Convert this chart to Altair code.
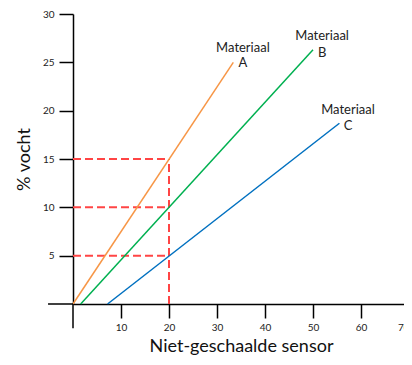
import altair as alt
import pandas as pd

# --- data ---
series = ["A", "B", "C"]
x_start = [0.0, 1.6, 7.2]
y_start = [0.0, 0.0, 0.0]
x_end = [33.4, 50.0, 55.5]
y_end = [25.0, 26.3, 18.7]
colors = ["#F79646", "#00B050", "#0070C0"]

ref_sensor = 20
ref_moist = [5, 10, 15]

label_x = [35.4, 51.9, 57.3]
label_y = [26.5, 27.75, 20.1]
letter_y = [24.9, 26.0, 18.4]

x_ticks = [10, 20, 30, 40, 50, 60, 70]
y_ticks = [5, 10, 15, 20, 25, 30]

FONT = "Lato"

xscale = alt.Scale(domain=[0, 70], nice=False, zero=False)
yscale = alt.Scale(domain=[0, 30], nice=False, zero=False)

x_axis = alt.Axis(values=x_ticks, title="Niet-geschaalde sensor", grid=False,
                  domainColor="black", domainWidth=1.5, tickColor="black",
                  tickSize=14, tickWidth=1.5, labelFont=FONT, labelFontSize=10,
                  labelColor="#222", labelPadding=4, titleFont=FONT,
                  titleFontSize=18, titleFontWeight="normal", titleColor="#111",
                  titlePadding=5)
y_axis = alt.Axis(values=y_ticks, title="% vocht", grid=False,
                  domainColor="black", domainWidth=1.5, tickColor="black",
                  tickSize=14, tickWidth=1.5, labelFont=FONT, labelFontSize=10,
                  labelColor="#222", labelPadding=5, titleFont=FONT,
                  titleFontSize=18, titleFontWeight="normal", titleColor="#111",
                  titlePadding=9)


def X(field):
    return alt.X(field, type="quantitative", scale=xscale, axis=x_axis)


def Y(field):
    return alt.Y(field, type="quantitative", scale=yscale, axis=y_axis)


rows = []
for s, xs, ys, xe, ye in zip(series, x_start, y_start, x_end, y_end):
    rows.append({"s": s, "x": xs, "y": ys, "o": 0})
    rows.append({"s": s, "x": xe, "y": ye, "o": 1})
lines_df = pd.DataFrame(rows)

lines = alt.Chart(lines_df).mark_line(strokeWidth=1.5).encode(
    x=X("x"), y=Y("y"), order="o:Q",
    color=alt.Color("s:N", scale=alt.Scale(domain=series, range=colors), legend=None),
)

# axis extensions past the origin
ext_df = pd.DataFrame({"x": [-5.2, 0.0, 70.0], "x2": [0.0, 0.0, 71.0],
                       "y": [0.0, -2.5, 0.0], "y2": [0.0, 0.0, 0.0]})
ext = alt.Chart(ext_df).mark_rule(color="black", strokeWidth=1.5).encode(
    x=X("x"), x2="x2", y=Y("y"), y2="y2")

h_df = pd.DataFrame({"x": [0] * len(ref_moist), "x2": [ref_sensor] * len(ref_moist), "y": ref_moist})
hdash = alt.Chart(h_df).mark_rule(color="#FF4545", strokeWidth=2, strokeDash=[8, 4]).encode(
    x=X("x"), x2="x2", y=Y("y"))
v_df = pd.DataFrame({"x": [ref_sensor], "y": [0], "y2": [max(ref_moist)]})
vdash = alt.Chart(v_df).mark_rule(color="#FF4545", strokeWidth=2, strokeDash=[8, 4]).encode(
    x=X("x"), y=Y("y"), y2="y2")

lab_df = pd.DataFrame({"x": label_x, "y": label_y, "t": ["Materiaal"] * 3})
let_df = pd.DataFrame({"x": label_x, "y": letter_y, "t": series})
labels = alt.Chart(lab_df).mark_text(font=FONT, fontSize=13, color="#222").encode(
    x=X("x"), y=Y("y"), text="t:N")
letters = alt.Chart(let_df).mark_text(font=FONT, fontSize=13, color="#222").encode(
    x=X("x"), y=Y("y"), text="t:N")

chart = alt.layer(hdash, vdash, lines, ext, labels, letters).properties(
    width=336, height=290,
    autosize=alt.AutoSizeParams(type="none"),
    padding={"left": 65, "top": 6, "right": -5, "bottom": 52},
).configure_view(stroke=None)

chart.save("out.html", embed_options={"renderer": "svg", "actions": False})
